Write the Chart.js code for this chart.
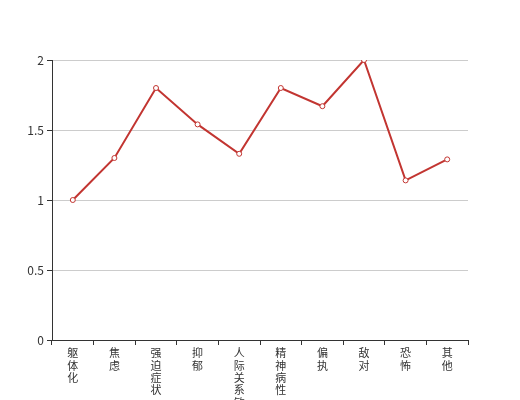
<!DOCTYPE html>
<html>
<head>
<meta charset="utf-8">
<script src="https://cdn.jsdelivr.net/npm/chart.js@4/dist/chart.umd.min.js"></script>
<style>
  html, body { margin: 0; padding: 0; background: #fff; }
  #wrap { width: 520px; height: 400px; }
</style>
</head>
<body>
<div id="wrap"><canvas id="chart" width="520" height="400"></canvas></div>
<script>
// 因子名称与得分
let categories = ["躯体化", "焦虑", "强迫症状", "抑郁", "人际关系敏感", "精神病性", "偏执", "敌对", "恐怖", "其他"];
let scores = [1, 1.3, 1.8, 1.54, 1.33, 1.8, 1.67, 2, 1.14, 1.29];
let yTicks = [0, 0.5, 1, 1.5, 2];

let red = "#c23531";
let axisColor = "#333";

let ctx = document.getElementById("chart").getContext("2d");
new Chart(ctx, {
    type: "line",
    data: {
        // 每个字单独一行，竖排显示
        labels: categories.map(c => c.split("")),
        datasets: [{
            data: scores,
            borderColor: red,
            borderWidth: 2,
            backgroundColor: "#fff",
            pointBackgroundColor: "#fff",
            pointBorderColor: red,
            pointBorderWidth: 1,
            pointRadius: 2.5,
            tension: 0,
            fill: false
        }]
    },
    options: {
        responsive: false,
        animation: false,
        layout: { padding: { top: 60, right: 52, left: 0, bottom: 0 } },
        plugins: {
            legend: { display: false },
            tooltip: { enabled: false }
        },
        scales: {
            x: {
                offset: true,
                grid: {
                    offset: true,
                    drawOnChartArea: false,
                    drawTicks: true,
                    tickLength: 5,
                    color: axisColor
                },
                border: { display: true, color: axisColor, width: 1 },
                ticks: {
                    color: axisColor,
                    maxRotation: 0,
                    autoSkip: false,
                    padding: 2,
                    font: { family: "'Noto Sans CJK SC', sans-serif", size: 11, lineHeight: "12.3px" }
                },
                afterFit: s => { s.height = 60; }
            },
            y: {
                min: 0,
                max: 2,
                afterBuildTicks: s => { s.ticks = yTicks.map(v => ({ value: v })); },
                grid: {
                    color: "#ccc",
                    tickColor: axisColor,
                    tickLength: 5,
                    drawTicks: true
                },
                border: { display: true, color: axisColor, width: 1 },
                ticks: {
                    color: axisColor,
                    padding: 3,
                    font: { family: "'Noto Sans CJK SC', sans-serif", size: 12 },
                    callback: v => String(v)
                },
                afterFit: s => { s.width = 52; }
            }
        }
    }
});
</script>
</body>
</html>
